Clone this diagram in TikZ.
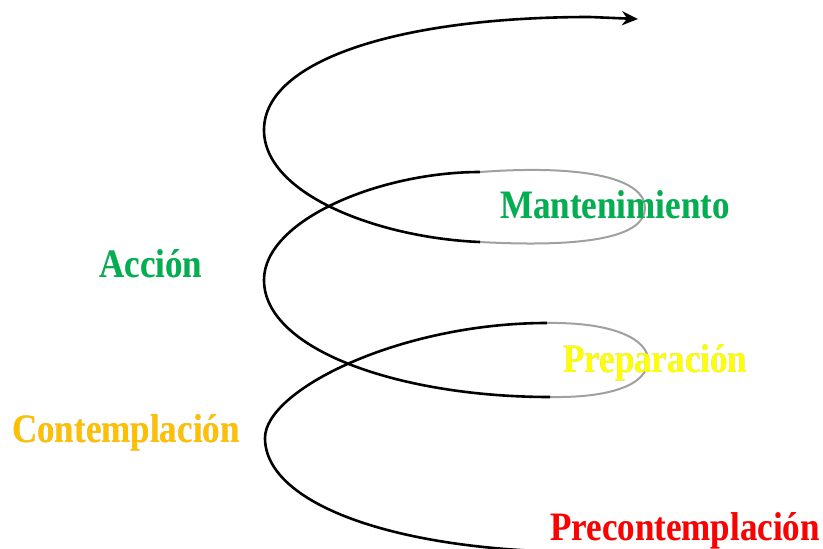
\documentclass[tikz,border=0pt]{standalone}
\usepackage{fontspec}
\setmainfont{Liberation Serif}
\usepackage[outline]{contour}
\contourlength{1.0pt}
\usetikzlibrary{arrows.meta}
\definecolor{cgreen}{HTML}{00B050}
\definecolor{cyellow}{HTML}{FFFF00}
\definecolor{corange}{HTML}{FFC000}
\definecolor{cred}{HTML}{FF0000}
\definecolor{cback}{HTML}{A0A0A0}
\definecolor{cglow}{HTML}{BDBDBD}
\tikzset{
  front/.style={draw=black, line width=2.6pt},
  back/.style={draw=cback, line width=2pt},
  stage/.style={anchor=base west, inner sep=0pt, font=\fontsize{35}{40}\selectfont\bfseries},
}
\newcommand{\glowtxt}[2]{\scalebox{1}[1.15]{\contour{cglow}{\textcolor{#1}{#2}}}}
\begin{document}
\begin{tikzpicture}[x=1pt,y=-1pt]
\clip (0,0) rectangle (823,549);
\fill[white] (0,0) rectangle (823,549);
% bottom loop hidden part
\draw[back] (590,551) .. controls (610,550) and (630,549) .. (660,552);
% front: bottom to lower ellipse top
\draw[front] (590,552) .. controls (400,553) and (265,505) .. (265,438)
  .. controls (265,390) and (400,323) .. (547,323);
% back: lower ellipse right part
\draw[back] (547,323) .. controls (615,322) and (648,340) .. (648,360)
  .. controls (648,385) and (610,398) .. (550,397);
% front: lower to middle
\draw[front] (550,397) .. controls (400,397) and (264,350) .. (264,280)
  .. controls (264,220) and (380,172) .. (480,172);
% back: middle ellipse right part
\draw[back] (480,172) .. controls (590,164) and (645,180) .. (645,208)
  .. controls (645,236) and (590,248) .. (480,242);
% front: top loop with arrow
\draw[front, -{Stealth[length=16pt,width=14pt]}] (480,242) .. controls (380,238) and (264,195) .. (264,130)
  .. controls (264,60) and (400,17) .. (590,17) -- (638,19);
% labels
\node[stage] (mant) at (500,218) {\glowtxt{cgreen}{Mantenimiento}};
\node[stage] (accion) at (99,277) {\glowtxt{cgreen}{Acción}};
\node[stage] (prep) at (563,372) {\glowtxt{cyellow}{Preparación}};
\node[stage] (cont) at (12,442) {\glowtxt{corange}{Contemplación}};
\node[stage] (precont) at (550,540) {\glowtxt{cred}{Precontemplación}};
\end{tikzpicture}
\end{document}
